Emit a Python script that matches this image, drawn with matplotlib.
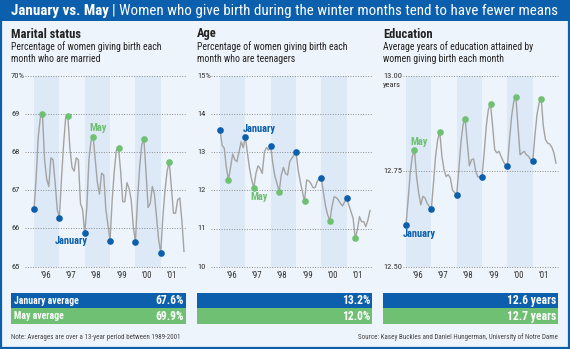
import matplotlib
matplotlib.use('Agg')
import matplotlib.pyplot as plt
import matplotlib.transforms as mtransforms
from matplotlib.patches import Rectangle

plt.rcParams['font.family'] = ['Roboto Condensed', 'Roboto', 'DejaVu Sans']

# monthly values, Jan 1996 - Dec 2001
married = [66.5, 67.3, 68.4, 68.9, 69.0, 67.8, 67.3, 67.1, 67.85, 67.8, 67.2, 66.5,
           66.28, 67.3, 68.2, 68.9, 68.95, 68.1, 67.6, 67.5, 67.85, 67.8, 66.65, 66.5,
           65.87, 66.55, 67.8, 68.3, 68.4, 67.8, 67.2, 66.9, 67.45, 67.4, 66.5, 66.1,
           65.68, 66.75, 67.5, 68.05, 68.12, 67.5, 66.7, 66.7, 67.2, 67.05, 66.75, 66.05,
           65.65, 66.75, 67.6, 68.2, 68.33, 67.5, 66.55, 66.65, 67.1, 66.9, 66.3, 65.7,
           65.37, 66.3, 67.0, 67.5, 67.75, 67.1, 66.4, 66.4, 66.75, 66.8, 66.2, 65.4]
teens = [13.59, 13.18, 13.1, 12.6, 12.27, 12.6, 12.95, 12.8, 12.75, 13.0, 13.27, 13.12,
         13.39, 12.97, 12.57, 12.27, 12.07, 12.44, 12.64, 12.57, 12.44, 13.0, 13.12, 13.05,
         13.15, 12.7, 12.36, 12.18, 11.96, 12.4, 12.6, 12.44, 12.4, 12.75, 12.84, 12.92,
         12.99, 12.53, 12.23, 11.96, 11.71, 12.27, 12.25, 12.18, 12.07, 12.07, 12.23, 12.31,
         12.31, 11.92, 11.57, 11.35, 11.2, 11.57, 11.83, 11.81, 11.75, 11.66, 11.59, 11.7,
         11.79, 11.61, 11.44, 11.27, 10.75, 10.96, 11.31, 11.18, 11.18, 11.05, 11.22, 11.47]
school = [12.609, 12.675, 12.745, 12.789, 12.806, 12.736, 12.693, 12.662, 12.684, 12.68, 12.666, 12.658,
          12.651, 12.719, 12.789, 12.833, 12.852, 12.789, 12.754, 12.736, 12.741, 12.732, 12.701, 12.694,
          12.689, 12.754, 12.824, 12.872, 12.887, 12.824, 12.764, 12.78, 12.782, 12.75, 12.735, 12.736,
          12.736, 12.798, 12.868, 12.912, 12.926, 12.868, 12.806, 12.798, 12.802, 12.789, 12.776, 12.767,
          12.763, 12.833, 12.894, 12.933, 12.945, 12.868, 12.793, 12.798, 12.802, 12.793, 12.789, 12.78,
          12.777, 12.842, 12.898, 12.929, 12.94, 12.868, 12.833, 12.824, 12.821, 12.813, 12.798, 12.771]

years = ['’96', '’97', '’98', '’99', '’00', '’01']
titles = ['Marital status', 'Age', 'Education']
subtitles = ['Percentage of women giving birth each\nmonth who are married',
             'Percentage of women giving birth each\nmonth who are teenagers',
             'Average years of education attained by\nwomen giving birth each month']
yticks = [[65, 66, 67, 68, 69, 70], [10, 11, 12, 13, 14, 15], [12.50, 12.75, 13.00]]
ytick_labels = [['65', '66', '67', '68', '69', '70%'],
                ['10', '11', '12', '13', '14', '15%'],
                ['12.50', '12.75', '13.00']]
jan_avg = ['67.6%', '13.2%', '12.6 years']
may_avg = ['69.9%', '12.0%', '12.7 years']
note = 'Note: Averages are over a 13-year period between 1989-2001'
source = 'Source: Kasey Buckles and Daniel Hungerman, University of Notre Dame'

BLUE = '#0b5fac'
GREEN = '#6fc072'
BG = '#eef4fb'
BAND = '#dde9f6'
W, H = 570, 349

fig = plt.figure(figsize=(W / 100, H / 100), dpi=100)
fig.patch.set_facecolor(BG)

# overlay axes in pixel units, drawn above the panels
bg = fig.add_axes([0, 0, 1, 1])
bg.set_xlim(0, W)
bg.set_ylim(H, 0)
bg.axis('off')
bg.set_zorder(5)
bg.add_patch(Rectangle((0, 0), W, 21, color=BLUE, lw=0))
bg.add_patch(Rectangle((1, 1), W - 2, H - 2, fill=False, ec=BLUE, lw=1.6))

t1 = bg.text(11, 11.5, 'January vs. May', color='white', fontsize=10.8,
             fontweight='bold', va='center')
fig.canvas.draw()
bb = t1.get_window_extent()
x_end = bg.transData.inverted().transform((bb.x1, bb.y0))[0]
bg.text(x_end + 3, 11.5, '| Women who give birth during the winter months tend to have fewer means',
        color='white', fontsize=10.8, va='center')

series = [married, teens, school]
ylims = [(65, 70), (10, 15), (12.5, 13.0)]
panel_left = [11, 197, 383]
grid_start = [14, 14, 20]
jan_lbl = [(71, 241), (259, 129), (419.5, 234)]
may_lbl = [(98, 127.7), (259, 197.3), (419, 141.7)]
s = 150 / 71.0
top, bottom = 75.7, 266.7

for i in range(3):
    pl = panel_left[i]
    bg.text(pl, 37.5, titles[i], fontsize=9, fontweight='bold', color='#222222', va='baseline')
    bg.text(pl, 41.5, subtitles[i], fontsize=7, color='#222222', va='top', linespacing=1.15)

    L, R = pl + 12, pl + 175
    ax = fig.add_axes([L / W, 1 - bottom / H, (R - L) / W, (bottom - top) / H])
    ax.set_facecolor('none')
    ax.axis('off')
    x0, x1 = (12 - 23) / s, (175 - 23) / s
    ax.set_xlim(x0, x1)
    ax.set_ylim(*ylims[i])

    for k in range(0, 6, 2):
        ax.axvspan(12 * k, 12 * k + 12, color=BAND, lw=0, zorder=0)

    gx = (grid_start[i] - 23) / s
    ymix = mtransforms.blended_transform_factory(bg.transData, ax.transData)
    for v, lab in zip(yticks[i], ytick_labels[i]):
        ax.plot([gx, x1], [v, v], ls=(0, (1, 1.6)), color='#8c8c8c', lw=0.7, zorder=1,
                clip_on=False)
        bg.text(pl, v, lab, transform=ymix, fontsize=6.1, color='#333333', va='center')
    if i == 2:
        bg.text(pl, 85.5, 'years', fontsize=6.1, color='#333333', va='center')

    xmix = mtransforms.blended_transform_factory(ax.transData, bg.transData)
    for k, yl in enumerate(years):
        bg.text(12 * k + 5.5, 275.5, yl, transform=xmix, fontsize=6.4, color='#333333',
                ha='center', va='center')

    months = list(range(len(series[i])))
    ax.plot(months, series[i], color='#a3a3a3', lw=1.0, zorder=2)
    jan_x = months[0::12]
    may_x = months[4::12]
    ax.plot(jan_x, series[i][0::12], 'o', color=BLUE, ms=4.8, mew=0, zorder=3, clip_on=False)
    ax.plot(may_x, series[i][4::12], 'o', color=GREEN, ms=4.8, mew=0, zorder=3, clip_on=False)

    bg.text(*jan_lbl[i], 'January', color=BLUE, fontsize=7.5, fontweight='bold',
            ha='center', va='center')
    bg.text(*may_lbl[i], 'May', color=GREEN, fontsize=7.5, fontweight='bold',
            ha='center', va='center')

    # averages boxes
    bg.add_patch(Rectangle((pl, 292.7), 175, 15.6, color=BLUE, lw=0))
    bg.add_patch(Rectangle((pl, 308.3), 175, 15.7, color=GREEN, lw=0))
    if i == 0:
        bg.text(pl + 3, 300.5, 'January average', color='white', fontsize=7,
                fontweight='bold', va='center')
        bg.text(pl + 3, 316.2, 'May average', color='white', fontsize=7,
                fontweight='bold', va='center')
    bg.text(pl + 173, 300.5, jan_avg[i], color='white', fontsize=8.4,
            fontweight='bold', va='center', ha='right')
    bg.text(pl + 173, 316.2, may_avg[i], color='white', fontsize=8.4,
            fontweight='bold', va='center', ha='right')

bg.text(11, 337.5, note, fontsize=5.05, color='#444444', va='center')
bg.text(558, 337.5, source, fontsize=5.05, color='#444444', va='center', ha='right')

fig.savefig('out.png', dpi=100, facecolor=BG)
